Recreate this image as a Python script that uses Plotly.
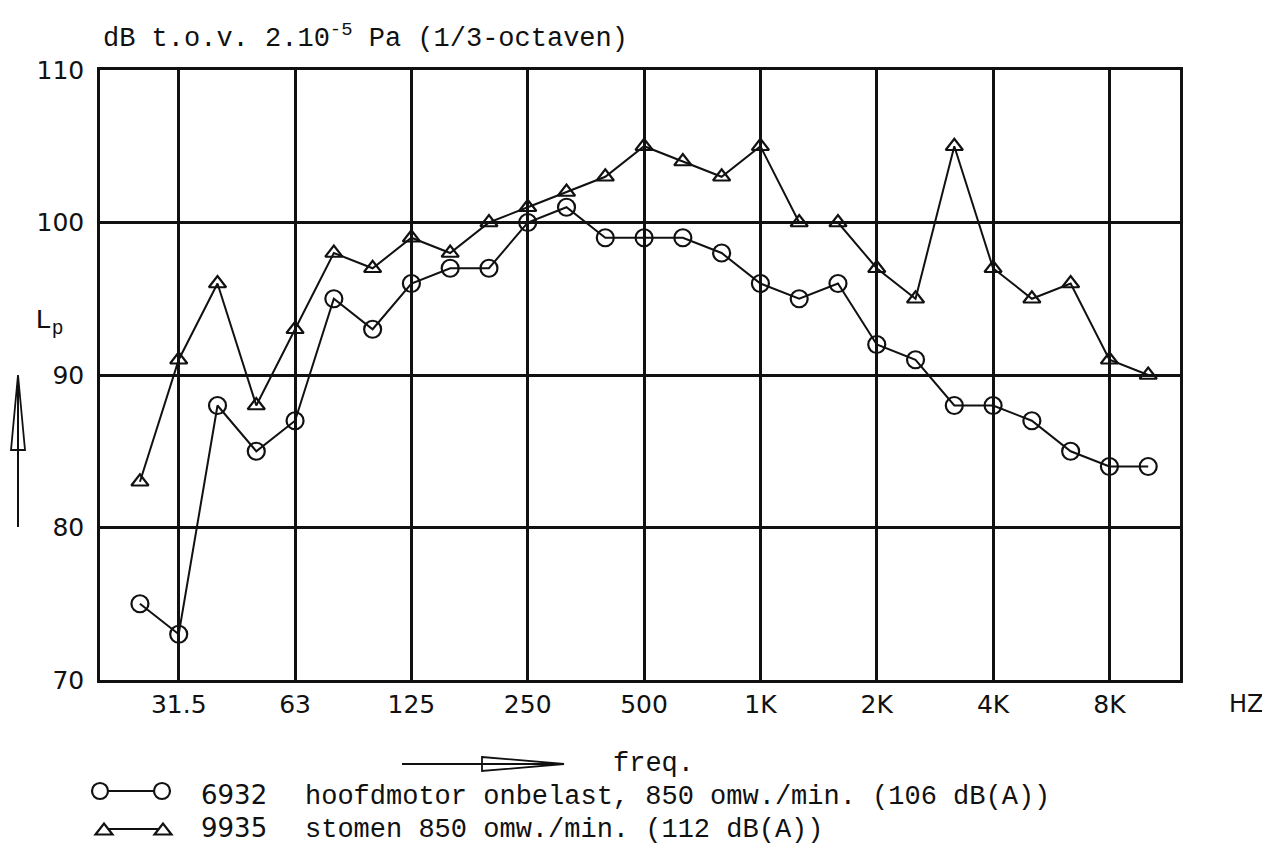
import plotly.graph_objects as go

# ---- data ----
bands = ["25", "31.5", "40", "50", "63", "80", "100", "125", "160", "200", "250",
         "315", "400", "500", "630", "800", "1K", "1.25K", "1.6K", "2K", "2.5K",
         "3.15K", "4K", "5K", "6.3K", "8K", "10K"]
lp_6932 = [75, 73, 88, 85, 87, 95, 93, 96, 97, 97, 100, 101, 99, 99, 99, 98, 96,
           95, 96, 92, 91, 88, 88, 87, 85, 84, 84]
lp_9935 = [83, 91, 96, 88, 93, 98, 97, 99, 98, 100, 101, 102, 103, 105, 104, 103,
           105, 100, 100, 97, 95, 105, 97, 95, 96, 91, 90]
octave_ticks = ["31.5", "63", "125", "250", "500", "1K", "2K", "4K", "8K"]
y_ticks = [70, 80, 90, 100, 110]
legend_ids = ["6932", "9935"]
legend_desc = ["hoofdmotor onbelast, 850 omw./min. (106 dB(A))",
               "stomen 850 omw./min. (112 dB(A))"]

# page has an 8px body margin -> figure is slightly smaller, positions in page pixels
OFF = 8
W, H = 1270 - OFF, 852 - OFF
L, R, T, B = 100 - OFF, 90, 70 - OFF, 172
PW, PH = W - L - R, H - T - B


def px(x):
    return (x - OFF - L) / PW


def py(y):
    return (H - B - (y - OFF)) / PH


MONO = "Liberation Mono, Courier New, monospace"
PLOT = "DejaVu Sans, Arial, sans-serif"
INK = "#111111"

fig = go.Figure()
fig.add_trace(go.Scatter(x=bands, y=lp_6932, mode="lines+markers",
                         line=dict(color=INK, width=2),
                         marker=dict(symbol="circle-open", size=17, color=INK,
                                     line=dict(width=2.2, color=INK)),
                         showlegend=False))
fig.add_trace(go.Scatter(x=bands, y=lp_9935, mode="lines+markers",
                         line=dict(color=INK, width=2),
                         marker=dict(symbol="triangle-up-open", size=15, color=INK,
                                     line=dict(width=2.2, color=INK)),
                         showlegend=False))


def circ(cx, cy, r):
    return dict(type="circle", xref="paper", yref="paper",
                x0=px(cx - r), x1=px(cx + r), y0=py(cy + r), y1=py(cy - r),
                line=dict(color=INK, width=2.2), fillcolor="white")


def tri(cx, cy, w, h):
    return dict(type="path", xref="paper", yref="paper",
                path="M %f,%f L %f,%f L %f,%f Z" % (px(cx - w / 2), py(cy + h / 2),
                                                  px(cx), py(cy - h / 2),
                                                  px(cx + w / 2), py(cy + h / 2)),
                line=dict(color=INK, width=2.2), fillcolor="white")


shapes = [
    # legend symbols
    dict(type="line", xref="paper", yref="paper", x0=px(100), x1=px(162),
         y0=py(791), y1=py(791), line=dict(color=INK, width=2)),
    circ(100, 791, 8), circ(162, 791, 8),
    dict(type="line", xref="paper", yref="paper", x0=px(104), x1=px(163),
         y0=py(829), y1=py(829), line=dict(color=INK, width=2)),
    tri(104, 829, 17, 11), tri(163, 829, 17, 11),
    # vertical arrow (left)
    dict(type="line", xref="paper", yref="paper", x0=px(18), x1=px(18),
         y0=py(527), y1=py(377), line=dict(color=INK, width=2)),
    dict(type="path", xref="paper", yref="paper",
         path="M %f,%f L %f,%f L %f,%f Z" % (px(11), py(450), px(18), py(375), px(25), py(450)),
         line=dict(color=INK, width=1.8), fillcolor="rgba(0,0,0,0)"),
    # horizontal arrow (freq.)
    dict(type="line", xref="paper", yref="paper", x0=px(402), x1=px(563),
         y0=py(764), y1=py(764), line=dict(color=INK, width=2)),
    dict(type="path", xref="paper", yref="paper",
         path="M %f,%f L %f,%f L %f,%f Z" % (px(482), py(757), px(564), py(764), px(482), py(771)),
         line=dict(color=INK, width=1.8), fillcolor="rgba(0,0,0,0)"),
]

annotations = [
    dict(text="dB t.o.v. 2.10<sup>-5</sup> Pa (1/3-octaven)", xref="paper", yref="paper",
         x=px(101), y=py(56), xanchor="left", yanchor="bottom", showarrow=False,
         font=dict(family=MONO, size=27, color=INK)),
    dict(text="L<sub>p</sub>", xref="paper", yref="paper", x=px(33), y=py(322),
         xanchor="left", yanchor="middle", showarrow=False,
         font=dict(family=MONO, size=28, color=INK)),
    dict(text="HZ", xref="paper", yref="paper", x=px(1266), y=py(704),
         xanchor="right", yanchor="middle", showarrow=False,
         font=dict(family=PLOT, size=24, color=INK)),
    dict(text="freq.", xref="paper", yref="paper", x=px(611), y=py(764),
         xanchor="left", yanchor="middle", showarrow=False,
         font=dict(family=MONO, size=27, color=INK)),
]
for i, (lid, desc) in enumerate(zip(legend_ids, legend_desc)):
    yy = 795 + 33 * i
    annotations.append(dict(text=lid, xref="paper", yref="paper", x=px(199), y=py(yy),
                            xanchor="left", yanchor="middle", showarrow=False,
                            font=dict(family=PLOT, size=26, color=INK)))
    annotations.append(dict(text=desc, xref="paper", yref="paper", x=px(303), y=py(yy + 2),
                            xanchor="left", yanchor="middle", showarrow=False,
                            font=dict(family=MONO, size=27, color=INK)))

fig.update_layout(
    width=W, height=H, autosize=False,
    margin=dict(l=L, r=R, t=T, b=B, pad=0),
    paper_bgcolor="white", plot_bgcolor="white",
    showlegend=False,
    shapes=shapes, annotations=annotations,
    xaxis=dict(type="category", categoryorder="array", categoryarray=bands,
               range=[-1.03, 26.82], tickmode="array", tickvals=octave_ticks,
               ticktext=octave_ticks, showgrid=True, gridcolor=INK, gridwidth=2.5,
               showline=True, linecolor=INK, linewidth=2.5, mirror=True,
               ticks="", zeroline=False, ticklabelstandoff=0,
               tickfont=dict(family=PLOT, size=25, color=INK)),
    yaxis=dict(range=[70, 110], tickmode="array", tickvals=y_ticks,
               showgrid=True, gridcolor=INK, gridwidth=2.5,
               showline=True, linecolor=INK, linewidth=2.5, mirror=True,
               ticks="", zeroline=False, ticklabelstandoff=8,
               tickfont=dict(family=PLOT, size=25, color=INK)),
)

fig.write_html("out.html")
